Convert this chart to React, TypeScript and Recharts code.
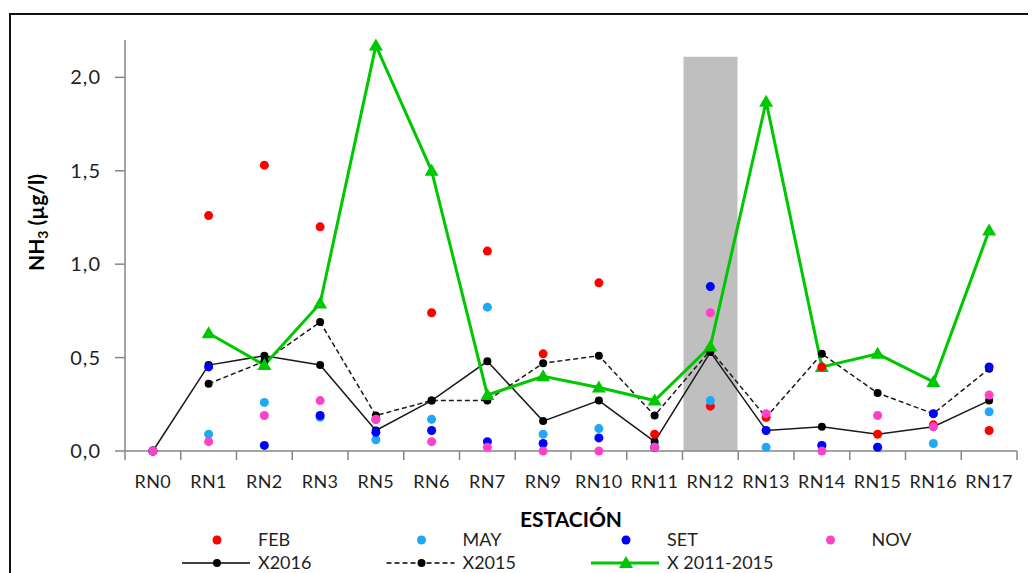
import { ComposedChart, Bar, Line, XAxis, YAxis } from 'recharts'

const stations = ['RN0', 'RN1', 'RN2', 'RN3', 'RN5', 'RN6', 'RN7', 'RN9', 'RN10', 'RN11', 'RN12', 'RN13', 'RN14', 'RN15', 'RN16', 'RN17']

// monthly samplings (scatter points)
const feb = [0, 1.26, 1.53, 1.2, 0.17, 0.74, 1.07, 0.52, 0.9, 0.09, 0.24, 0.18, 0.45, 0.09, 0.14, 0.11]
const may = [0, 0.09, 0.26, 0.18, 0.06, 0.17, 0.77, 0.09, 0.12, 0.02, 0.27, 0.02, 0.03, 0.02, 0.04, 0.21]
const set = [0, 0.45, 0.03, 0.19, 0.1, 0.11, 0.05, 0.04, 0.07, 0.02, 0.88, 0.11, 0.03, 0.02, 0.2, 0.45]
const nov = [0, 0.05, 0.19, 0.27, 0.17, 0.05, 0.02, 0, 0, 0.02, 0.74, 0.2, 0, 0.19, 0.13, 0.3]

// averages
const x2016 = [0, 0.46, 0.51, 0.46, 0.11, 0.27, 0.48, 0.16, 0.27, 0.05, 0.53, 0.11, 0.13, 0.09, 0.13, 0.27]
const x2015 = [null, 0.36, 0.48, 0.69, 0.19, 0.27, 0.27, 0.47, 0.51, 0.19, 0.54, 0.18, 0.52, 0.31, 0.2, 0.44]
const x20112015 = [null, 0.63, 0.46, 0.79, 2.17, 1.5, 0.3, 0.4, 0.34, 0.27, 0.56, 1.87, 0.45, 0.52, 0.37, 1.18]

// shaded station
const highlight = [null, null, null, null, null, null, null, null, null, null, 2.11, null, null, null, null, null]

const yTicks = [0, 0.5, 1, 1.5, 2]

const data = stations.map((s, i) => ({
  station: s,
  feb: feb[i],
  may: may[i],
  set: set[i],
  nov: nov[i],
  x2016: x2016[i],
  x2015: x2015[i],
  x1115: x20112015[i],
  shade: highlight[i],
}))

const W = 1028
const H = 565
const M = { top: 32, right: 19, left: 47, bottom: 92 }
const Y_AXIS_W = 70
const X_AXIS_H = 30
const BAND = (W - M.left - M.right - Y_AXIS_W) / stations.length

const AXIS = '#868686'
const TXT = '#1f1f1f'
const GREEN = '#00C800'
const FONT = 'Lato, sans-serif'

const XTick = (props: any) => {
  const { x, y, payload, index } = props
  const left = x - BAND / 2
  const right = x + BAND / 2
  return (
    <g>
      <line x1={left} y1={y} x2={left} y2={y + 9} stroke={AXIS} strokeWidth={1.5} />
      {index === stations.length - 1 && (
        <line x1={right} y1={y} x2={right} y2={y + 9} stroke={AXIS} strokeWidth={1.5} />
      )}
      <text x={x} y={y + 37} textAnchor="middle" fill={TXT} fontSize={18} letterSpacing={0.4} fontFamily={FONT}>
        {payload.value}
      </text>
    </g>
  )
}

const triangle = (p: any) => {
  if (p.cx == null || p.cy == null || p.value == null) return <g key={p.index} />
  const { cx, cy } = p
  return <path key={p.index} d={`M${cx},${cy - 7} L${cx + 7},${cy + 5} L${cx - 7},${cy + 5} Z`} fill={GREEN} />
}

const YLabel = (props: any) => {
  const vb = props.viewBox
  const cx = 36
  const cy = vb.y + vb.height / 2 - 23
  return (
    <text
      x={cx}
      y={cy}
      transform={`rotate(-90 ${cx} ${cy})`}
      textAnchor="middle"
      fontWeight="bold"
      fontSize={21}
      fontFamily={FONT}
      fill="#000"
    >
      NH<tspan fontSize={14} dy={4}>3</tspan>
      <tspan dy={-4}> (µg/l)</tspan>
    </text>
  )
}

const XLabel = (props: any) => {
  const vb = props.viewBox
  return (
    <text x={vb.x + vb.width / 2} y={vb.y + 76} textAnchor="middle" fontWeight="bold" fontSize={21} fontFamily={FONT} fill="#000">
      ESTACIÓN
    </text>
  )
}

const dotSeries = [
  { key: 'feb', name: 'FEB', color: '#FF0000' },
  { key: 'may', name: 'MAY', color: '#1FA8F5' },
  { key: 'set', name: 'SET', color: '#0000FF' },
  { key: 'nov', name: 'NOV', color: '#FF40C8' },
]

function LegendBox() {
  const colX = (c: number) => 174 + 204.5 * c
  return (
    <svg width={W} height={H} style={{ position: 'absolute', left: 0, top: 0, pointerEvents: 'none' }}>
      {dotSeries.map((s, c) => (
        <g key={s.key}>
          <circle cx={colX(c) + 35} cy={532} r={4.5} fill={s.color} />
          <text x={colX(c) + 76} y={538} fontSize={18} fontFamily={FONT} fill={TXT}>{s.name}</text>
        </g>
      ))}
      <g>
        <line x1={colX(0)} y1={555} x2={colX(0) + 68} y2={555} stroke="#000" strokeWidth={1.5} />
        <circle cx={colX(0) + 35} cy={555} r={4} fill="#000" />
        <text x={colX(0) + 76} y={561} fontSize={18} fontFamily={FONT} fill={TXT}>X2016</text>
      </g>
      <g>
        <line x1={colX(1)} y1={555} x2={colX(1) + 68} y2={555} stroke="#000" strokeWidth={1.5} strokeDasharray="5 3" />
        <circle cx={colX(1) + 35} cy={555} r={4} fill="#000" />
        <text x={colX(1) + 76} y={561} fontSize={18} fontFamily={FONT} fill={TXT}>X2015</text>
      </g>
      <g>
        <line x1={colX(2)} y1={555} x2={colX(2) + 68} y2={555} stroke={GREEN} strokeWidth={3} />
        {triangle({ cx: colX(2) + 35, cy: 555, value: 1, index: 0 })}
        <text x={colX(2) + 76} y={561} fontSize={18} fontFamily={FONT} fill={TXT}>X 2011-2015</text>
      </g>
    </svg>
  )
}

export default function App() {
  return (
    <div style={{ position: 'relative', width: W, height: H, overflow: 'hidden', background: '#fff', fontFamily: FONT }}>
      <div
        style={{
          position: 'absolute',
          left: 1,
          top: 5,
          width: 1200,
          height: 800,
          border: '2px solid #111',
          boxSizing: 'border-box',
        }}
      />
      <div style={{ position: 'absolute', left: 0, top: 0 }}>
        <ComposedChart width={W} height={H} data={data} margin={M}>
          <XAxis
            dataKey="station"
            height={X_AXIS_H}
            interval={0}
            tickLine={false}
            tickSize={0}
            tickMargin={0}
            axisLine={{ stroke: AXIS, strokeWidth: 1.5 }}
            tick={<XTick />}
            label={<XLabel />}
          />
          <YAxis
            width={Y_AXIS_W}
            domain={[0, 2.2]}
            ticks={yTicks}
            tickFormatter={(v: number) => v.toFixed(1).replace('.', ',')}
            tickSize={10}
            tickMargin={14}
            tickLine={{ stroke: AXIS, strokeWidth: 1.5 }}
            axisLine={{ stroke: AXIS, strokeWidth: 1.5 }}
            tick={{ fill: TXT, fontSize: 20, fontFamily: FONT, letterSpacing: 1 }}
            label={<YLabel />}
          />
          <Bar dataKey="shade" fill="#BFBFBF" barSize={54} isAnimationActive={false} />
          <Line
            dataKey="x2016"
            stroke="#1a1a1a"
            strokeWidth={1.5}
            dot={{ r: 4, fill: '#000', stroke: 'none' }}
            activeDot={false}
            isAnimationActive={false}
          />
          <Line
            dataKey="x2015"
            stroke="#1a1a1a"
            strokeWidth={1.5}
            strokeDasharray="5 3"
            dot={{ r: 4, fill: '#000', stroke: 'none' }}
            activeDot={false}
            isAnimationActive={false}
          />
          <Line
            dataKey="x1115"
            stroke={GREEN}
            strokeWidth={3}
            dot={triangle}
            activeDot={false}
            isAnimationActive={false}
          />
          {dotSeries.map((s) => (
            <Line
              key={s.key}
              dataKey={s.key}
              stroke="none"
              dot={{ r: 4.5, fill: s.color, stroke: 'none' }}
              activeDot={false}
              isAnimationActive={false}
            />
          ))}
        </ComposedChart>
      </div>
      <LegendBox />
    </div>
  )
}
